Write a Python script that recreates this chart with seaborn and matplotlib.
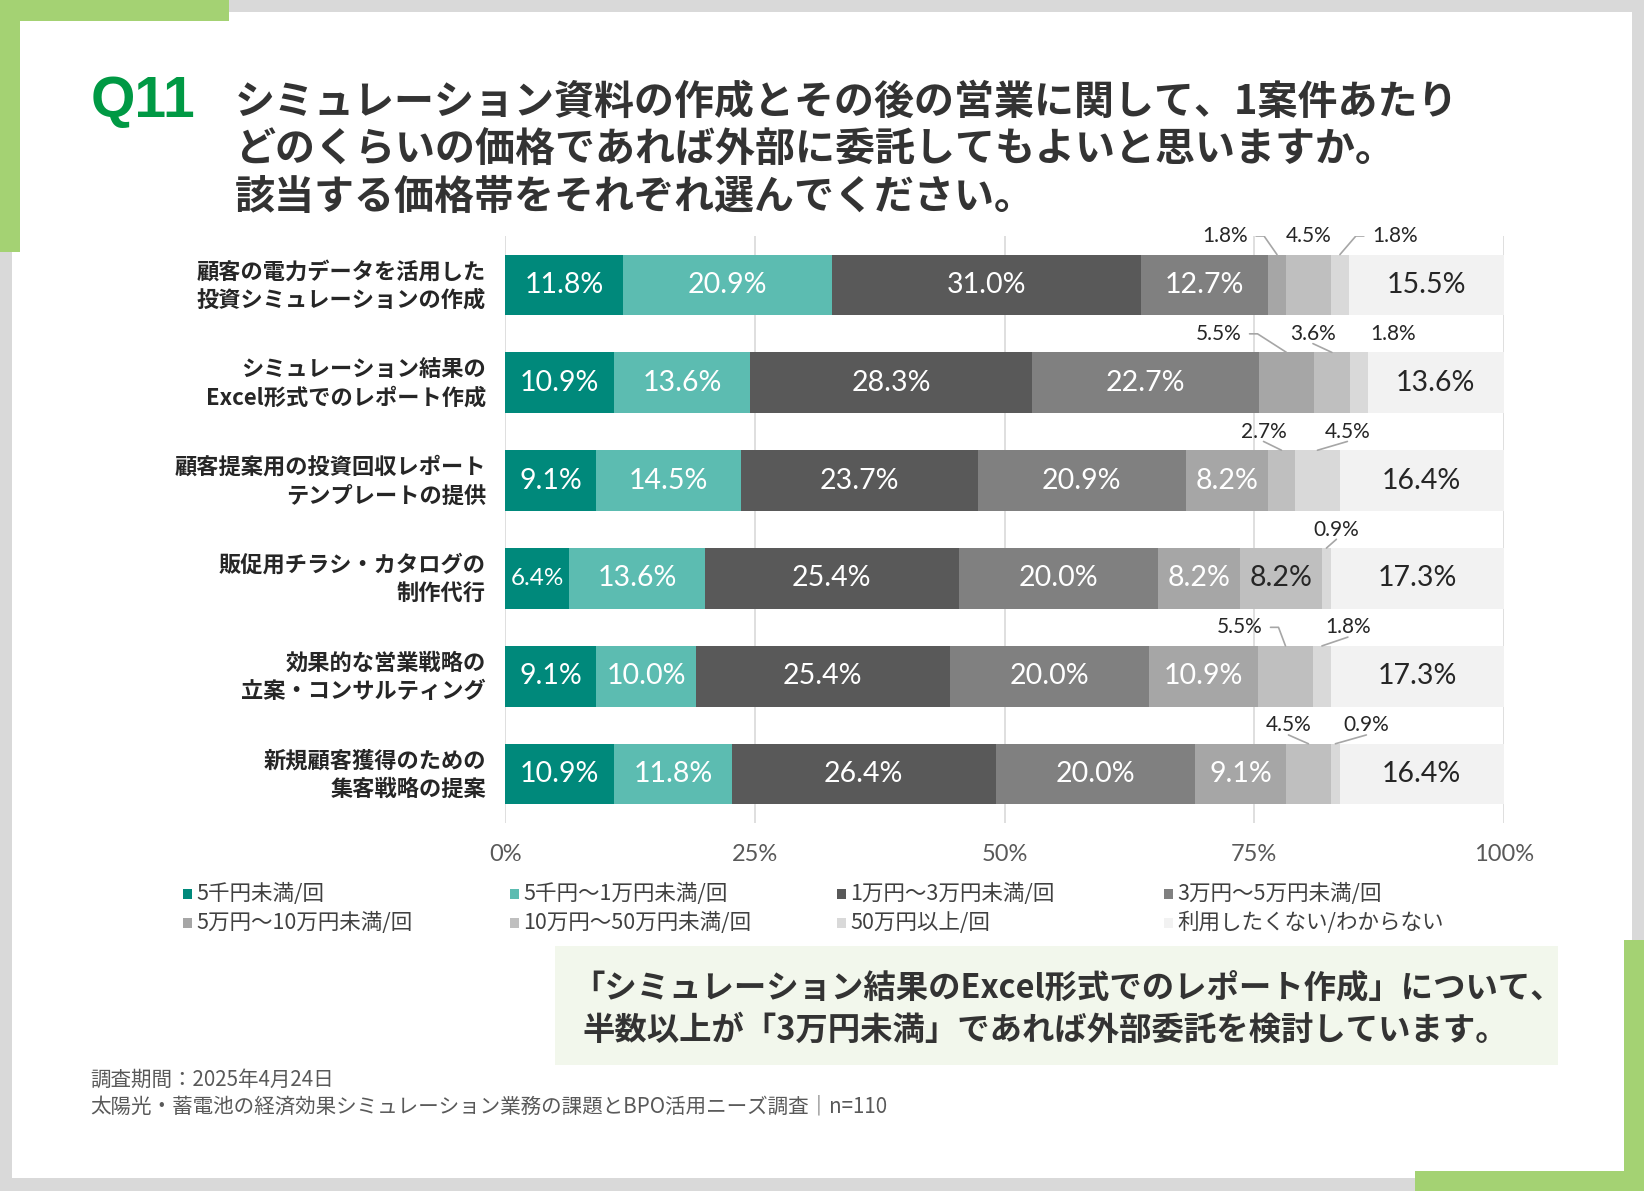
import matplotlib
matplotlib.use("Agg")
import numpy as np
import pandas as pd
import matplotlib.pyplot as plt
import seaborn as sns
from matplotlib.patches import Rectangle
from matplotlib.lines import Line2D
from matplotlib.transforms import ScaledTranslation

# %% data
categories = [
    "顧客の電力データを活用した\n投資シミュレーションの作成",
    "シミュレーション結果の\nExcel形式でのレポート作成",
    "顧客提案用の投資回収レポート\nテンプレートの提供",
    "販促用チラシ・カタログの\n制作代行",
    "効果的な営業戦略の\n立案・コンサルティング",
    "新規顧客獲得のための\n集客戦略の提案",
]
bands = ["5千円未満/回", "5千円～1万円未満/回", "1万円～3万円未満/回", "3万円～5万円未満/回",
         "5万円～10万円未満/回", "10万円～50万円未満/回", "50万円以上/回", "利用したくない/わからない"]
under_5k = [11.8, 10.9, 9.1, 6.4, 9.1, 10.9]
from_5k_to_10k = [20.9, 13.6, 14.5, 13.6, 10.0, 11.8]
from_10k_to_30k = [31.0, 28.3, 23.7, 25.4, 25.4, 26.4]
from_30k_to_50k = [12.7, 22.7, 20.9, 20.0, 20.0, 20.0]
from_50k_to_100k = [1.8, 5.5, 8.2, 8.2, 10.9, 9.1]
from_100k_to_500k = [4.5, 3.6, 2.7, 8.2, 5.5, 4.5]
over_500k = [1.8, 1.8, 4.5, 0.9, 1.8, 0.9]
not_interested = [15.5, 13.6, 16.4, 17.3, 17.3, 16.4]
x_ticks = [0, 25, 50, 75, 100]

colors = ["#00897b", "#5cbcb1", "#595959", "#808080", "#a6a6a6", "#bfbfbf", "#d9d9d9", "#f2f2f2"]

# small segments labelled above the bar: (row, band) -> (x offset in %, leader style)
callouts = {
    (0, 4): (-5.2, "elbow"), (0, 5): (0.0, None), (0, 6): (5.5, "elbow"),
    (1, 4): (-6.8, "elbow"), (1, 5): (-1.9, "under"), (1, 6): (3.4, None),
    (2, 5): (-1.8, "under"), (2, 6): (3.0, "under"),
    (3, 6): (1.0, "under"),
    (4, 5): (-4.6, "elbow"), (4, 6): (2.6, "under"),
    (5, 5): (-2.0, "under"), (5, 6): (3.1, "under"),
}

df = pd.DataFrame(
    np.array([under_5k, from_5k_to_10k, from_10k_to_30k, from_30k_to_50k,
              from_50k_to_100k, from_100k_to_500k, over_500k, not_interested]).T,
    columns=bands, index=categories)
cum = df.cumsum(axis=1)
plot_df = cum.reset_index(names="item")

# %% style
sns.set_style("white")
plt.rcParams["font.family"] = ["Noto Sans CJK JP", "DejaVu Sans"]
NUM_FONT = ["Lato", "DejaVu Sans"]

W, H = 1644, 1191
fig = plt.figure(figsize=(W / 100, H / 100), dpi=100, facecolor="#d9d9d9")


def fx(x):
    return x / W


def fy(y):
    return 1 - y / H


def box(x0, y0, x1, y1, color, z=-10):
    fig.add_artist(Rectangle((fx(x0), fy(y1)), fx(x1) - fx(x0), fy(y0) - fy(y1),
                             transform=fig.transFigure, facecolor=color,
                             edgecolor="none", zorder=z))


# frame
GREEN = "#a4d273"
box(12, 12, 1632, 1178, "white", -20)
box(0, 0, 229, 21, GREEN, -15)
box(0, 0, 20, 252, GREEN, -15)
box(1624, 940, 1644, 1191, GREEN, -15)
box(1415, 1171, 1644, 1191, GREEN, -15)

# %% chart
ax = fig.add_axes([fx(505.4), fy(823), fx(1503.6) - fx(505.4), fy(236) - fy(823)])
ax.patch.set_alpha(0)

for i in reversed(range(len(bands))):
    sns.barplot(data=plot_df, x=bands[i], y="item", order=categories, orient="h",
                color=colors[i], saturation=1, width=0.62, linewidth=0,
                errorbar=None, ax=ax)

ax.set_xlim(0, 100)
ax.set_xticks(x_ticks)
ax.set_xticklabels([f"{t}%" for t in x_ticks], fontsize=17, color="#595959", family=NUM_FONT)
ax.xaxis.grid(True, color="#d9d9d9", lw=1.2)
ax.yaxis.grid(False)
ax.set_axisbelow(True)
for s in ax.spines.values():
    s.set_visible(False)
ax.tick_params(axis="both", length=0)
ax.tick_params(axis="x", pad=15)
ax.tick_params(axis="y", pad=14)
ax.set_xlabel("")
ax.set_ylabel("")
shift_up = ScaledTranslation(0, 3 / 72, fig.dpi_scale_trans)
for lab in ax.get_yticklabels():
    lab.set_fontsize(16)
    lab.set_fontweight("bold")
    lab.set_color("#262626")
    lab.set_linespacing(1.3)
    lab.set_transform(lab.get_transform() + shift_up)

# value labels
for j in range(len(categories)):
    for i, band in enumerate(bands):
        v = df.iloc[j, i]
        c = cum.iloc[j, i] - v / 2
        if (j, i) in callouts:
            dx, style = callouts[(j, i)]
            lx, ly = c + dx, j - 0.5
            ax.text(lx, ly, f"{v:.1f}%", ha="center", va="center", fontsize=15,
                    color="#262626", family=NUM_FONT)
            top = j - 0.31
            if style == "under":
                ax.add_line(Line2D([lx, c], [ly + 0.1, top], color="#a6a6a6", lw=1.2))
            elif style == "elbow":
                d = np.sign(c - lx)
                ax.add_line(Line2D([lx + d * 3.1, lx + d * 3.9, c], [ly, ly, top],
                                   color="#a6a6a6", lw=1.2))
        else:
            txt_col = "white" if i < 5 else "#262626"
            ax.text(c, j, f"{v:.1f}%", ha="center", va="center",
                    fontsize=17.5 if v < 7 else 20.5, color=txt_col, family=NUM_FONT)

# %% legend (row-wise, fixed column grid)
for k, band in enumerate(bands):
    col, row = k % 4, k // 4
    x0 = 187 + col * 327
    y0 = 894 + row * 29
    box(x0 - 4, y0 - 5, x0 + 5, y0 + 5, colors[k], 5)
    fig.text(fx(x0 + 9), fy(y0), band, fontsize=15.5, color="#404040", va="center", ha="left")

# %% titles
fig.text(fx(91), fy(102), "Q11", fontsize=41, fontweight="bold", color="#009944",
         family=["Liberation Sans", "DejaVu Sans"], va="center", ha="left")
title_lines = ["シミュレーション資料の作成とその後の営業に関して、1案件あたり",
               "どのくらいの価格であれば外部に委託してもよいと思いますか。",
               "該当する価格帯をそれぞれ選んでください。"]
for k, line in enumerate(title_lines):
    fig.text(fx(235), fy(102 + k * 47.5), line, fontsize=28.8, fontweight="bold",
             color="#333333", va="center", ha="left")

# %% callout
box(555, 946, 1558, 1065, "#f2f7ec", -5)
fig.text(fx(572), fy(988), "「シミュレーション結果のExcel形式でのレポート作成」について、",
         fontsize=23.3, fontweight="bold", color="#333333", va="center", ha="left")
fig.text(fx(582), fy(1030), "半数以上が「3万円未満」であれば外部委託を検討しています。",
         fontsize=23.3, fontweight="bold", color="#333333", va="center", ha="left")

# %% footnote
fig.text(fx(90), fy(1080), "調査期間：2025年4月24日", fontsize=14.8, color="#595959",
         va="center", ha="left")
fig.text(fx(90), fy(1106), "太陽光・蓄電池の経済効果シミュレーション業務の課題とBPO活用ニーズ調査｜n=110",
         fontsize=14.8, color="#595959", va="center", ha="left")

fig.savefig("out.png", dpi=100, facecolor=fig.get_facecolor())
